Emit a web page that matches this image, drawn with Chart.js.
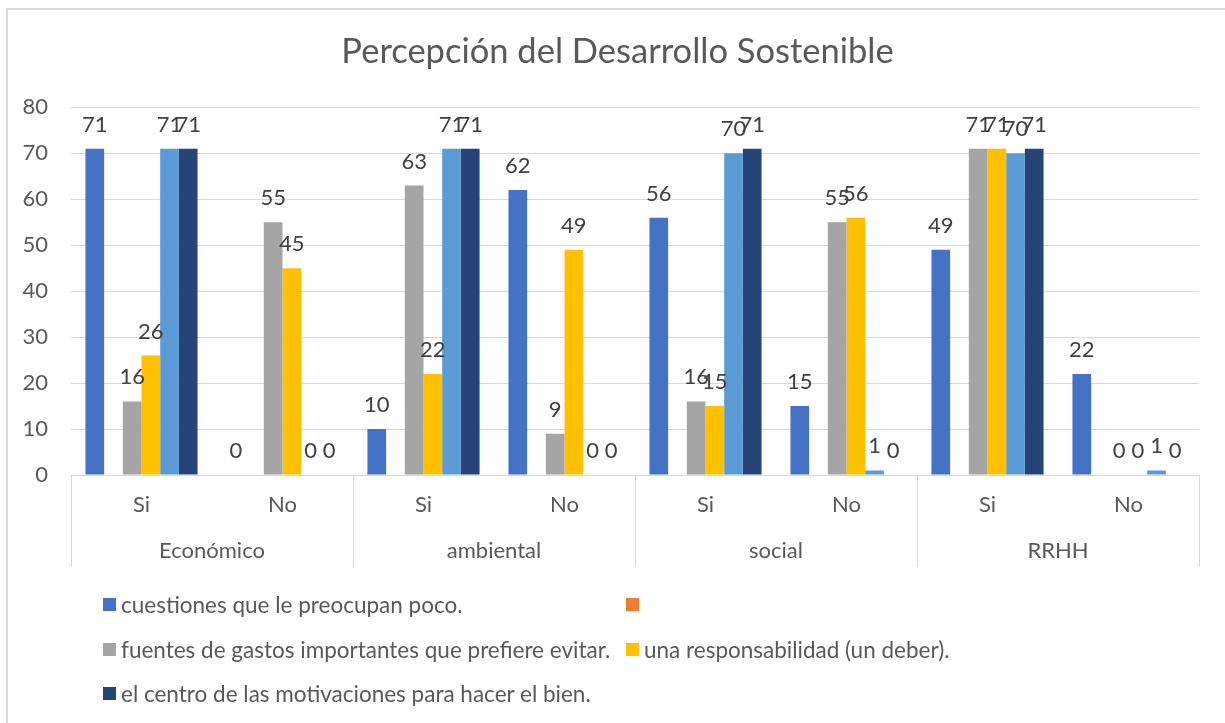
<!DOCTYPE html>
<html>
<head>
<meta charset="utf-8">
<script src="https://cdn.jsdelivr.net/npm/chart.js@4"></script>
<style>
  html, body { margin: 0; padding: 0; background: #fff; overflow: hidden; }
  #wrap { position: relative; width: 1225px; height: 723px; }
  #frame { position: absolute; left: 6px; top: 8px; width: 1400px; height: 900px;
           border-left: 2px solid #d9d9d9; border-top: 2px solid #d9d9d9; box-sizing: border-box; }
  #chartCanvas { position: absolute; left: 0; top: 0; }
  #legend { position: absolute; left: 103px; top: 582px; display: grid;
            grid-template-columns: 523px 523px; grid-auto-rows: 44.7px; }
  .item { display: flex; align-items: center; font: 22.5px Lato; color: #595959; white-space: nowrap; }
  .box { width: 13px; height: 13px; margin-right: 5px; flex: none; }
</style>
</head>
<body>
<div id="wrap">
  <div id="frame"></div>
  <canvas id="chartCanvas" width="1225" height="723"></canvas>
  <div id="legend"></div>
</div>
<script>
const groups = ['Económico', 'ambiental', 'social', 'RRHH'];
const answers = ['Si', 'No', 'Si', 'No', 'Si', 'No', 'Si', 'No'];
const yTicks = [0, 10, 20, 30, 40, 50, 60, 70, 80];

const seriesNames = [
  'cuestiones que le preocupan poco.',
  '',
  'fuentes de gastos importantes que prefiere evitar.',
  'una responsabilidad (un deber).',
  '',
  'el centro de las motivaciones para hacer el bien.'
];
const seriesColors = ['#4472C4', '#ED7D31', '#A5A5A5', '#FFC000', '#5B9BD5', '#264478'];
const inLegend = [true, true, true, true, false, true];

const poco = [71, 0, 10, 62, 56, 15, 49, 22];
const empty = [null, null, null, null, null, null, null, null];
const gastos = [16, 55, 63, 9, 16, 55, 71, 0];
const deber = [26, 45, 22, 49, 15, 56, 71, 0];
const celeste = [71, 0, 71, 0, 70, 1, 70, 1];
const motivacion = [71, 0, 71, 0, 71, 0, 71, 0];
const seriesValues = [poco, empty, gastos, deber, celeste, motivacion];

const textColor = '#595959';
const gridColor = '#d9d9d9';
const labelFont = { family: 'Lato', size: 22 };

// value labels above bars (no datalabels plugin available)
const valueLabels = {
  id: 'valueLabels',
  afterDatasetsDraw(chart) {
    const ctx = chart.ctx;
    ctx.save();
    ctx.font = '22px Lato';
    ctx.fillStyle = '#404040';
    ctx.textAlign = 'center';
    ctx.textBaseline = 'alphabetic';
    chart.data.datasets.forEach((ds, i) => {
      chart.getDatasetMeta(i).data.forEach((bar, j) => {
        const v = ds.data[j];
        if (v == null) return;
        ctx.fillText(String(v), bar.x, bar.y - 17);
      });
    });
    ctx.restore();
  }
};

const chart = new Chart(document.getElementById('chartCanvas'), {
  type: 'bar',
  data: {
    labels: answers,
    datasets: seriesValues.map((vals, i) => ({
      label: seriesNames[i],
      data: vals,
      backgroundColor: seriesColors[i],
      categoryPercentage: 0.795,
      barPercentage: 1
    }))
  },
  options: {
    responsive: false,
    animation: false,
    layout: { padding: { left: 10, right: 0, top: 0, bottom: 156 } },
    plugins: {
      legend: { display: false },
      tooltip: { enabled: false },
      title: {
        display: true,
        text: 'Percepción del Desarrollo Sostenible',
        color: textColor,
        font: { family: 'Lato', size: 34.5, weight: 'normal' },
        padding: { top: 31, bottom: 35 }
      }
    },
    scales: {
      y: {
        min: 0,
        max: 80,
        afterBuildTicks: (scale) => { scale.ticks = yTicks.map(v => ({ value: v })); },
        afterFit: (scale) => { scale.width = 61; },
        grid: { color: gridColor, drawTicks: false },
        border: { display: false },
        ticks: { color: textColor, font: labelFont, padding: 23 }
      },
      // empty right-hand strip, keeps the plot clear of the right edge
      yRight: {
        type: 'linear',
        position: 'right',
        afterFit: (scale) => { scale.width = 26; },
        grid: { drawOnChartArea: false, drawTicks: false },
        border: { display: false },
        ticks: { display: false }
      },
      x: {
        afterFit: (scale) => { scale.height = 45; },
        grid: {
          drawOnChartArea: false,
          offset: true,
          tickLength: 45,
          color: (c) => (c.index === undefined || c.index % 2 === 0) ? gridColor : 'rgba(0,0,0,0)'
        },
        border: { color: gridColor },
        ticks: { color: textColor, font: labelFont, padding: -28, autoSkip: false, maxRotation: 0 }
      },
      x2: {
        type: 'category',
        position: 'bottom',
        labels: groups,
        offset: true,
        afterFit: (scale) => { scale.height = 47; },
        grid: { drawOnChartArea: false, offset: true, tickLength: 47, color: gridColor },
        border: { display: false },
        ticks: { color: textColor, font: labelFont, padding: -29, autoSkip: false, maxRotation: 0 }
      }
    }
  },
  plugins: [valueLabels]
});

// legend in two columns, like the original
const legend = document.getElementById('legend');
chart.data.datasets.forEach((ds, i) => {
  if (!inLegend[i]) return;
  const item = document.createElement('div');
  item.className = 'item';
  const box = document.createElement('span');
  box.className = 'box';
  box.style.background = ds.backgroundColor;
  const txt = document.createElement('span');
  txt.textContent = ds.label;
  item.appendChild(box);
  item.appendChild(txt);
  legend.appendChild(item);
});
</script>
</body>
</html>
